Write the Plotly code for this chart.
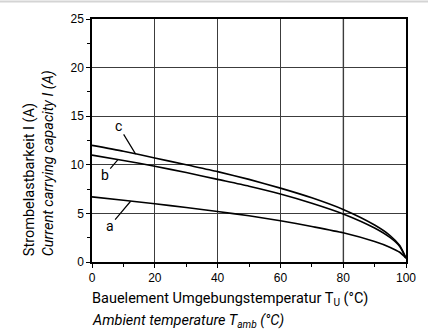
import plotly.graph_objects as go

# ambient temperature (°C) and current carrying capacity (A)
temp = [0, 10, 20, 30, 40, 50, 60, 70, 80, 90, 95, 98, 100]
curve_a = [6.7, 6.35, 6.0, 5.6, 5.2, 4.75, 4.25, 3.65, 3.0, 2.1, 1.5, 1.0, 0.4]
curve_b = [11.0, 10.45, 9.85, 9.2, 8.5, 7.8, 7.0, 6.05, 4.95, 3.5, 2.5, 1.6, 0.4]
curve_c = [12.0, 11.4, 10.7, 10.0, 9.3, 8.5, 7.6, 6.6, 5.4, 3.8, 2.7, 1.7, 0.4]
x_ticks = [0, 20, 40, 60, 80, 100]
y_ticks = [0, 5, 10, 15, 20, 25]

FONT = "Roboto, Liberation Sans, sans-serif"
TICKFONT = "Liberation Sans, Arial, sans-serif"

fig = go.Figure()

for name, vals in [("a", curve_a), ("b", curve_b), ("c", curve_c)]:
    fig.add_trace(go.Scatter(
        x=temp, y=vals, mode="lines", name=name,
        line=dict(color="black", width=1.6, shape="spline", smoothing=0.6),
        hoverinfo="skip"
    ))

# curve labels with leader lines
labels = [("c", 13.9, 11.1, -17, -28), ("b", 8.2, 10.5, -13, 15), ("a", 12.3, 6.25, -21, 25)]
for txt, x, y, ax, ay in labels:
    fig.add_annotation(
        x=x, y=y, text=txt, showarrow=True, arrowhead=0, arrowwidth=1.2,
        arrowcolor="black", ax=ax, ay=ay, standoff=0,
        font=dict(family=FONT, size=14, color="black")
    )

# axis titles
fig.add_annotation(
    xref="paper", yref="paper", x=-0.006, y=-0.151, xanchor="left", yanchor="middle",
    text="Bauelement Umgebungstemperatur T<sub>U</sub> (°C)", showarrow=False,
    font=dict(family=FONT, size=14.5, color="black")
)
fig.add_annotation(
    xref="paper", yref="paper", x=-0.006, y=-0.241, xanchor="left", yanchor="middle",
    text="<i>Ambient temperature T<sub>amb</sub> (°C)</i>", showarrow=False,
    font=dict(family=FONT, size=14.5, color="black")
)
fig.add_annotation(
    xref="paper", yref="paper", x=-0.2006, y=0.0136, xanchor="center", yanchor="bottom",
    text="Strombelastbarkeit I (A)", textangle=-90, showarrow=False,
    font=dict(family=FONT, size=14.5, color="black")
)
fig.add_annotation(
    xref="paper", yref="paper", x=-0.138, y=0.0136, xanchor="center", yanchor="bottom",
    text="<i>Current carrying capacity I (A)</i>", textangle=-90, showarrow=False,
    font=dict(family=FONT, size=14.5, color="black")
)

# light scanned gridline at 80 and top page border
fig.add_shape(type="line", xref="x", yref="paper", x0=80, x1=80, y0=0, y1=1,
              line=dict(color="#b0b0b0", width=2), layer="below")
fig.add_shape(type="line", xref="paper", yref="paper", x0=-0.5, x1=1.5, y0=1.072, y1=1.072,
              line=dict(color="#d4d4d4", width=2))

fig.update_layout(
    width=428, height=334,
    paper_bgcolor="white", plot_bgcolor="white",
    font=dict(family=FONT, color="black"),
    margin=dict(l=92, r=14.5, t=19, b=71.7),
    showlegend=False,
    xaxis=dict(
        range=[0, 100], tickvals=x_ticks, ticks="outside", ticklen=4, tickwidth=1,
        tickcolor="black", showline=True, linecolor="black", linewidth=1.5, mirror=True,
        showgrid=True, gridcolor="#3c3c3c", gridwidth=1, zeroline=False,
        tickfont=dict(family=TICKFONT, size=12, color="black"),
        minor=dict(dtick=10, ticks="outside", ticklen=3, tickcolor="black", showgrid=False)
    ),
    yaxis=dict(
        range=[0, 25], tickvals=y_ticks, ticks="outside", ticklen=4, tickwidth=1,
        tickcolor="black", showline=True, linecolor="black", linewidth=1.5, mirror=True,
        showgrid=True, gridcolor="#3c3c3c", gridwidth=1, zeroline=False,
        tickfont=dict(family=TICKFONT, size=12, color="black"),
        minor=dict(dtick=2.5, ticks="outside", ticklen=3, tickcolor="black", showgrid=False)
    ),
)

fig.write_html("out.html", config={"displayModeBar": False},
               post_script="document.body.style.margin='0';")
